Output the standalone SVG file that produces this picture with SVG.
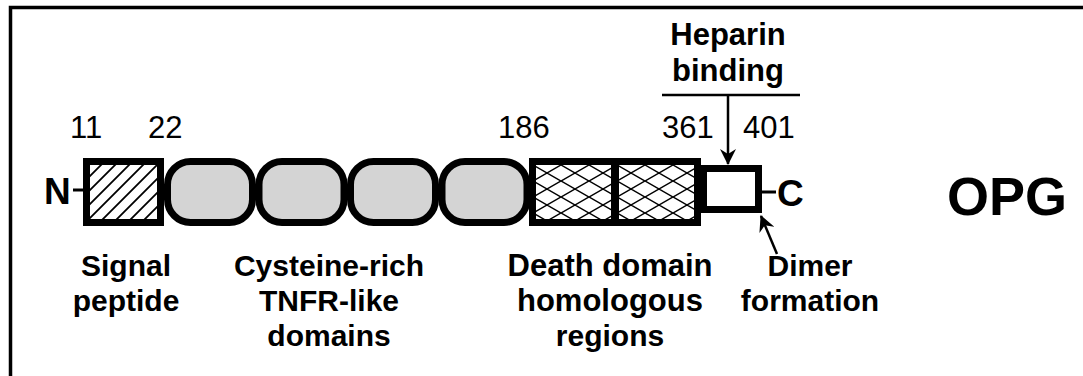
<svg xmlns="http://www.w3.org/2000/svg" width="1083" height="376" viewBox="0 0 1083 376">
  <style>
    .frame { fill: none; stroke: #000; stroke-width: 3.5; }
    .box { stroke: #000; stroke-width: 7; stroke-linejoin: miter; }
    .oval { stroke: #000; stroke-width: 7; fill: #d4d4d4; }
    .num { font-family: "Liberation Sans", Arial, sans-serif; font-size: 31px; fill: #000; }
    .lab { font-family: "Liberation Sans", Arial, sans-serif; font-size: 30px; font-weight: bold; fill: #000; text-anchor: middle; }
    .term { font-family: "Liberation Sans", Arial, sans-serif; font-size: 37px; font-weight: bold; fill: #000; }
    .title { font-family: "Liberation Sans", Arial, sans-serif; font-size: 54px; font-weight: bold; fill: #000; }
    .conn { stroke: #000; stroke-width: 2.5; fill: none; }
  </style>
  <defs>
    <pattern id="diag" patternUnits="userSpaceOnUse" width="14" height="14">
      <path d="M0,14 L14,0 M-3.5,3.5 L3.5,-3.5 M10.5,17.5 L17.5,10.5" stroke="#000" stroke-width="1.8"/>
    </pattern>
    <pattern id="cross" patternUnits="userSpaceOnUse" x="533" y="165" width="28" height="16">
      <path d="M0,0 L28,16 M0,16 L28,0" stroke="#000" stroke-width="1.5"/>
    </pattern>
    <marker id="arrow" viewBox="0 0 16 16" refX="15" refY="8" markerWidth="16" markerHeight="16" markerUnits="userSpaceOnUse" orient="auto">
      <path d="M0,0 L16,8 L0,16 L5,8 z" fill="#000"/>
    </marker>
  </defs>

  <path class="frame" d="M10.5,380 V7.5 H1090"/>

  <g id="n-terminus">
    <line x1="73" y1="190" x2="84" y2="190" stroke="#000" stroke-width="3"/>
    <text class="term" x="44" y="204">N</text>
  </g>

  <g id="signal-peptide">
    <rect class="box" x="86.5" y="161.5" width="74" height="61" fill="#fff"/>
    <rect x="90" y="165" width="67" height="54" fill="url(#diag)"/>
  </g>

  <g id="cysteine-domains">
    <rect class="oval" x="167.5" y="161.5" width="85" height="61" rx="23"/>
    <rect class="oval" x="259" y="161.5" width="85" height="61" rx="23"/>
    <rect class="oval" x="350.5" y="161.5" width="85" height="61" rx="23"/>
    <rect class="oval" x="442" y="161.5" width="85" height="61" rx="23"/>
  </g>

  <g id="death-domains">
    <rect x="533" y="165" width="164" height="54" fill="#fff"/>
    <rect x="533" y="165" width="164" height="54" fill="url(#cross)"/>
    <rect class="box" x="532.5" y="161.5" width="165" height="61" fill="none"/>
    <line x1="615" y1="161.5" x2="615" y2="222.5" stroke="#000" stroke-width="8"/>
  </g>

  <g id="heparin-domain">
    <rect class="box" x="703.5" y="168.5" width="55" height="41" fill="#fff"/>
  </g>

  <g id="c-terminus">
    <line x1="762" y1="192" x2="776" y2="192" stroke="#000" stroke-width="3"/>
    <text class="term" x="777" y="206">C</text>
  </g>

  <g id="numbers">
    <text class="num" x="70" y="138">11</text>
    <text class="num" x="148" y="138">22</text>
    <text class="num" x="498" y="138">186</text>
    <text class="num" x="662" y="138">361</text>
    <text class="num" x="743" y="138">401</text>
  </g>

  <g id="heparin-label">
    <text class="lab" x="728" y="45" style="font-size:31px">Heparin</text>
    <text class="lab" x="728" y="81" style="font-size:31px">binding</text>
    <line x1="662" y1="95" x2="800" y2="95" stroke="#000" stroke-width="2.5"/>
  </g>

  <g id="connectors">
    <line class="conn" x1="728" y1="95" x2="728" y2="164" marker-end="url(#arrow)"/>
    <line class="conn" x1="777" y1="254" x2="761" y2="216" marker-end="url(#arrow)"/>
  </g>

  <g id="labels">
    <text class="lab" x="126" y="276">Signal</text>
    <text class="lab" x="126" y="311">peptide</text>
    <text class="lab" x="329" y="276">Cysteine-rich</text>
    <text class="lab" x="329" y="311">TNFR-like</text>
    <text class="lab" x="329" y="346">domains</text>
    <text class="lab" x="610" y="276" style="font-size:31px">Death domain</text>
    <text class="lab" x="610" y="311" style="font-size:31px">homologous</text>
    <text class="lab" x="610" y="346">regions</text>
    <text class="lab" x="810" y="276">Dimer</text>
    <text class="lab" x="810" y="311">formation</text>
  </g>

  <g id="opg">
    <text class="title" x="947" y="215">OPG</text>
  </g>
</svg>
